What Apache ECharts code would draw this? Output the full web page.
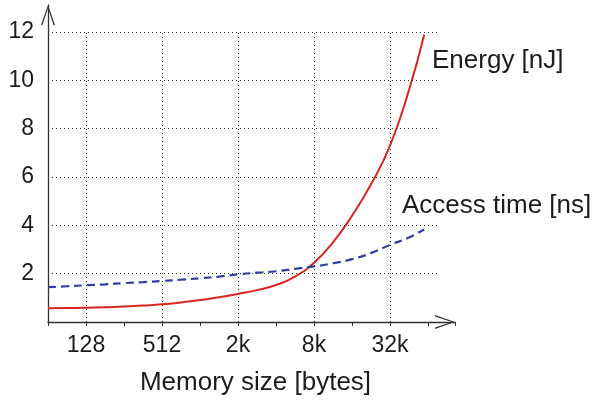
<!DOCTYPE html>
<html>
<head>
<meta charset="utf-8">
<script src="https://cdn.jsdelivr.net/npm/echarts@6/dist/echarts.min.js"></script>
<style>
  html, body { margin: 0; padding: 0; background: #fff; }
  #chart { width: 595px; height: 401px; }
</style>
</head>
<body>
<div id="chart"></div>
<script>
// memory sizes, one category step per position (128 -> 0, 512 -> 1, ...)
var sizeLabels = ['128', '512', '2k', '8k', '32k'];
var sizePos = [-0.5, -0.25, 0, 0.25, 0.5, 0.75, 1, 1.25, 1.5, 1.75, 2, 2.25, 2.5, 2.75,
               3, 3.25, 3.5, 3.75, 4, 4.25, 4.45];
// energy per access [nJ]
var energy = [0.57, 0.58, 0.59, 0.61, 0.64, 0.68, 0.73, 0.81, 0.91, 1.02, 1.16, 1.32, 1.53, 1.88,
              2.45, 3.3, 4.4, 5.7, 7.3, 9.6, 11.9];
// access time [ns]
var accessTime = [1.44, 1.48, 1.52, 1.56, 1.61, 1.65, 1.70, 1.75, 1.81, 1.88, 1.97, 2.04, 2.1, 2.2,
                  2.3, 2.43, 2.6, 2.85, 3.19, 3.5, 3.83];
var yTicks = [2, 4, 6, 8, 10, 12];

var font = '"Liberation Sans", Arial, Helvetica, sans-serif';
var ink = '#1c1c1c';
// open chevron used as arrow head on both axes
var chevron = 'path://M7,0 L14,20 L12.5,20 L7,3.2 L1.5,20 L0,20 Z';

function pairs(ys) {
  return sizePos.map(function (x, i) { return [x, ys[i]]; });
}

// dotted grid, built from tick lists
var gridLines = [];
sizeLabels.forEach(function (l, i) {
  gridLines.push([{ coord: [i, 0] }, { coord: [i, 12] }]);
});
yTicks.forEach(function (v) {
  gridLines.push([{ coord: [-0.5, v] }, { coord: [4.64, v] }]);
});

var chart = echarts.init(document.getElementById('chart'));
chart.setOption({
  animation: false,
  backgroundColor: '#fff',
  grid: { left: 48, right: 140, top: 5, bottom: 79 },
  xAxis: {
    type: 'value',
    min: -0.5,
    max: 4.855,
    interval: 0.5,
    splitLine: { show: false },
    axisLine: {
      onZero: false,
      lineStyle: { color: '#333', width: 1.3 },
      symbol: ['none', chevron],
      symbolSize: [14, 20],
      symbolOffset: [0, -10]
    },
    axisTick: { show: true, length: 4, lineStyle: { color: '#333' } },
    axisLabel: {
      margin: 12,
      fontSize: 23,
      color: ink,
      fontFamily: font,
      showMinLabel: true,
      showMaxLabel: true,
      formatter: function (v) {
        var r = Math.round(v);
        return (Math.abs(v - r) < 1e-6 && sizeLabels[r]) ? sizeLabels[r] : '';
      }
    },
    name: 'Memory size [bytes]',
    nameLocation: 'middle',
    nameGap: 48,
    nameTextStyle: { fontSize: 26, color: ink, fontFamily: font, padding: [0, 0, 0, 8] }
  },
  yAxis: {
    type: 'value',
    min: 0,
    max: 13.12,
    interval: 2,
    splitLine: { show: false },
    axisLine: {
      show: true,
      onZero: false,
      lineStyle: { color: '#333', width: 1.3 },
      symbol: ['none', chevron],
      symbolSize: [14, 20],
      symbolOffset: [0, -10]
    },
    axisTick: { show: false },
    axisLabel: {
      margin: 14,
      fontSize: 23,
      color: ink,
      fontFamily: font,
      formatter: function (v) {
        return yTicks.indexOf(v) >= 0 ? String(v) : '';
      }
    }
  },
  graphic: [
    { type: 'text', left: 432, top: 48, style: { text: 'Energy [nJ]', font: '26px ' + font, fill: ink } },
    { type: 'text', left: 402, top: 193, style: { text: 'Access time [ns]', font: '26px ' + font, fill: ink } }
  ],
  series: [
    {
      name: 'grid',
      type: 'line',
      data: [],
      markLine: {
        silent: true,
        symbol: 'none',
        label: { show: false },
        lineStyle: { color: '#333', type: [1, 3], width: 1 },
        data: gridLines
      }
    },
    {
      name: 'Energy [nJ]',
      type: 'line',
      data: pairs(energy),
      smooth: 0.5,
      symbol: 'none',
      lineStyle: { color: '#d6281e', width: 2 }
    },
    {
      name: 'Access time [ns]',
      type: 'line',
      data: pairs(accessTime),
      smooth: 0.5,
      symbol: 'none',
      lineStyle: { color: '#2f3ea0', width: 2.2, type: [8, 5] }
    }
  ]
});
</script>
</body>
</html>
